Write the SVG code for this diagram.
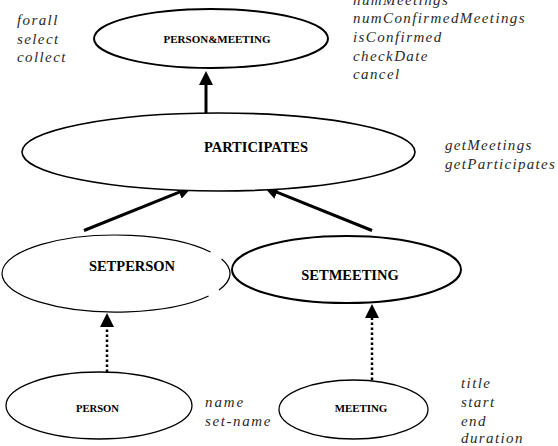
<svg xmlns="http://www.w3.org/2000/svg" width="558" height="446" viewBox="0 0 558 446">
  <style>
    .node { fill: #fff; stroke: #000; }
    .lbl { font-family: "Liberation Serif", "Times New Roman", serif; font-weight: bold; text-anchor: middle; fill: #000; }
    .op { font-family: "Liberation Serif", "Times New Roman", serif; font-style: italic; font-size: 15px; letter-spacing: 1.4px; fill: #2a2a2a; }
    .solid { stroke: #000; stroke-width: 3; fill: none; marker-end: url(#head); }
    .dotted { stroke: #000; stroke-width: 2.5; stroke-dasharray: 2.5 2.5; fill: none; marker-end: url(#head); }
  </style>
  <defs>
    <marker id="head" viewBox="0 0 14 14" markerWidth="14" markerHeight="14" markerUnits="userSpaceOnUse" refX="1" refY="7" orient="auto">
      <path d="M0,0 L14,7 L0,14 z" fill="#000"/>
    </marker>
  </defs>
  <rect width="558" height="446" fill="#fff"/>

  <g id="connectors">
    <line class="solid" x1="206" y1="113" x2="206" y2="84"/>
    <line class="solid" x1="84" y1="230.5" x2="180" y2="191.8"/>
    <line class="solid" x1="372" y1="230.5" x2="276.1" y2="191.9"/>
    <line class="dotted" x1="107" y1="372" x2="107" y2="326"/>
    <line class="dotted" x1="372" y1="380" x2="372" y2="317"/>
  </g>

  <g id="person-meeting">
    <ellipse class="node" cx="211" cy="38.5" rx="117" ry="29.5" stroke-width="2"/>
    <text class="lbl" x="217" y="43" font-size="11">PERSON&amp;MEETING</text>
  </g>

  <g id="participates">
    <ellipse class="node" cx="218.5" cy="152" rx="196.5" ry="39" stroke-width="1.6"/>
    <text class="lbl" x="256" y="152" font-size="14.5">PARTICIPATES</text>
  </g>

  <g id="setperson">
    <path class="node" fill="none" stroke-width="1.2" d="M221.6,259 A114,38.5 0 0 1 219,290 M208.6,296 A114,38.5 0 1 1 210.5,252"/>
    <text class="lbl" x="132" y="271" font-size="14.5">SETPERSON</text>
  </g>

  <g id="setmeeting">
    <ellipse class="node" cx="346.5" cy="269.5" rx="114.5" ry="33.5" stroke-width="2"/>
    <text class="lbl" x="350" y="280" font-size="14.5">SETMEETING</text>
  </g>

  <g id="person">
    <ellipse class="node" cx="99" cy="405.5" rx="93" ry="33.5" stroke-width="1.3"/>
    <text class="lbl" x="97.5" y="412" font-size="10.6">PERSON</text>
  </g>

  <g id="meeting">
    <ellipse class="node" cx="353.5" cy="409.5" rx="74.5" ry="29.5" stroke-width="1.3"/>
    <text class="lbl" x="361" y="412" font-size="10.9">MEETING</text>
  </g>

  <g id="annotations">
    <text class="op" x="17" y="25">forall</text>
    <text class="op" x="17" y="43.5">select</text>
    <text class="op" x="17" y="62">collect</text>

    <text class="op" x="353" y="5">numMeetings</text>
    <text class="op" x="353" y="23">numConfirmedMeetings</text>
    <text class="op" x="353" y="42">isConfirmed</text>
    <text class="op" x="353" y="60.5">checkDate</text>
    <text class="op" x="353" y="79">cancel</text>

    <text class="op" x="445" y="150" style="letter-spacing:1.3px">getMeetings</text>
    <text class="op" x="445" y="168.5" style="letter-spacing:1.3px">getParticipates</text>

    <text class="op" x="205" y="407" style="letter-spacing:1.9px">name</text>
    <text class="op" x="205" y="426" style="letter-spacing:1.6px">set-name</text>

    <text class="op" x="461" y="388">title</text>
    <text class="op" x="461" y="407">start</text>
    <text class="op" x="461" y="426">end</text>
    <text class="op" x="461" y="443">duration</text>
  </g>
</svg>
